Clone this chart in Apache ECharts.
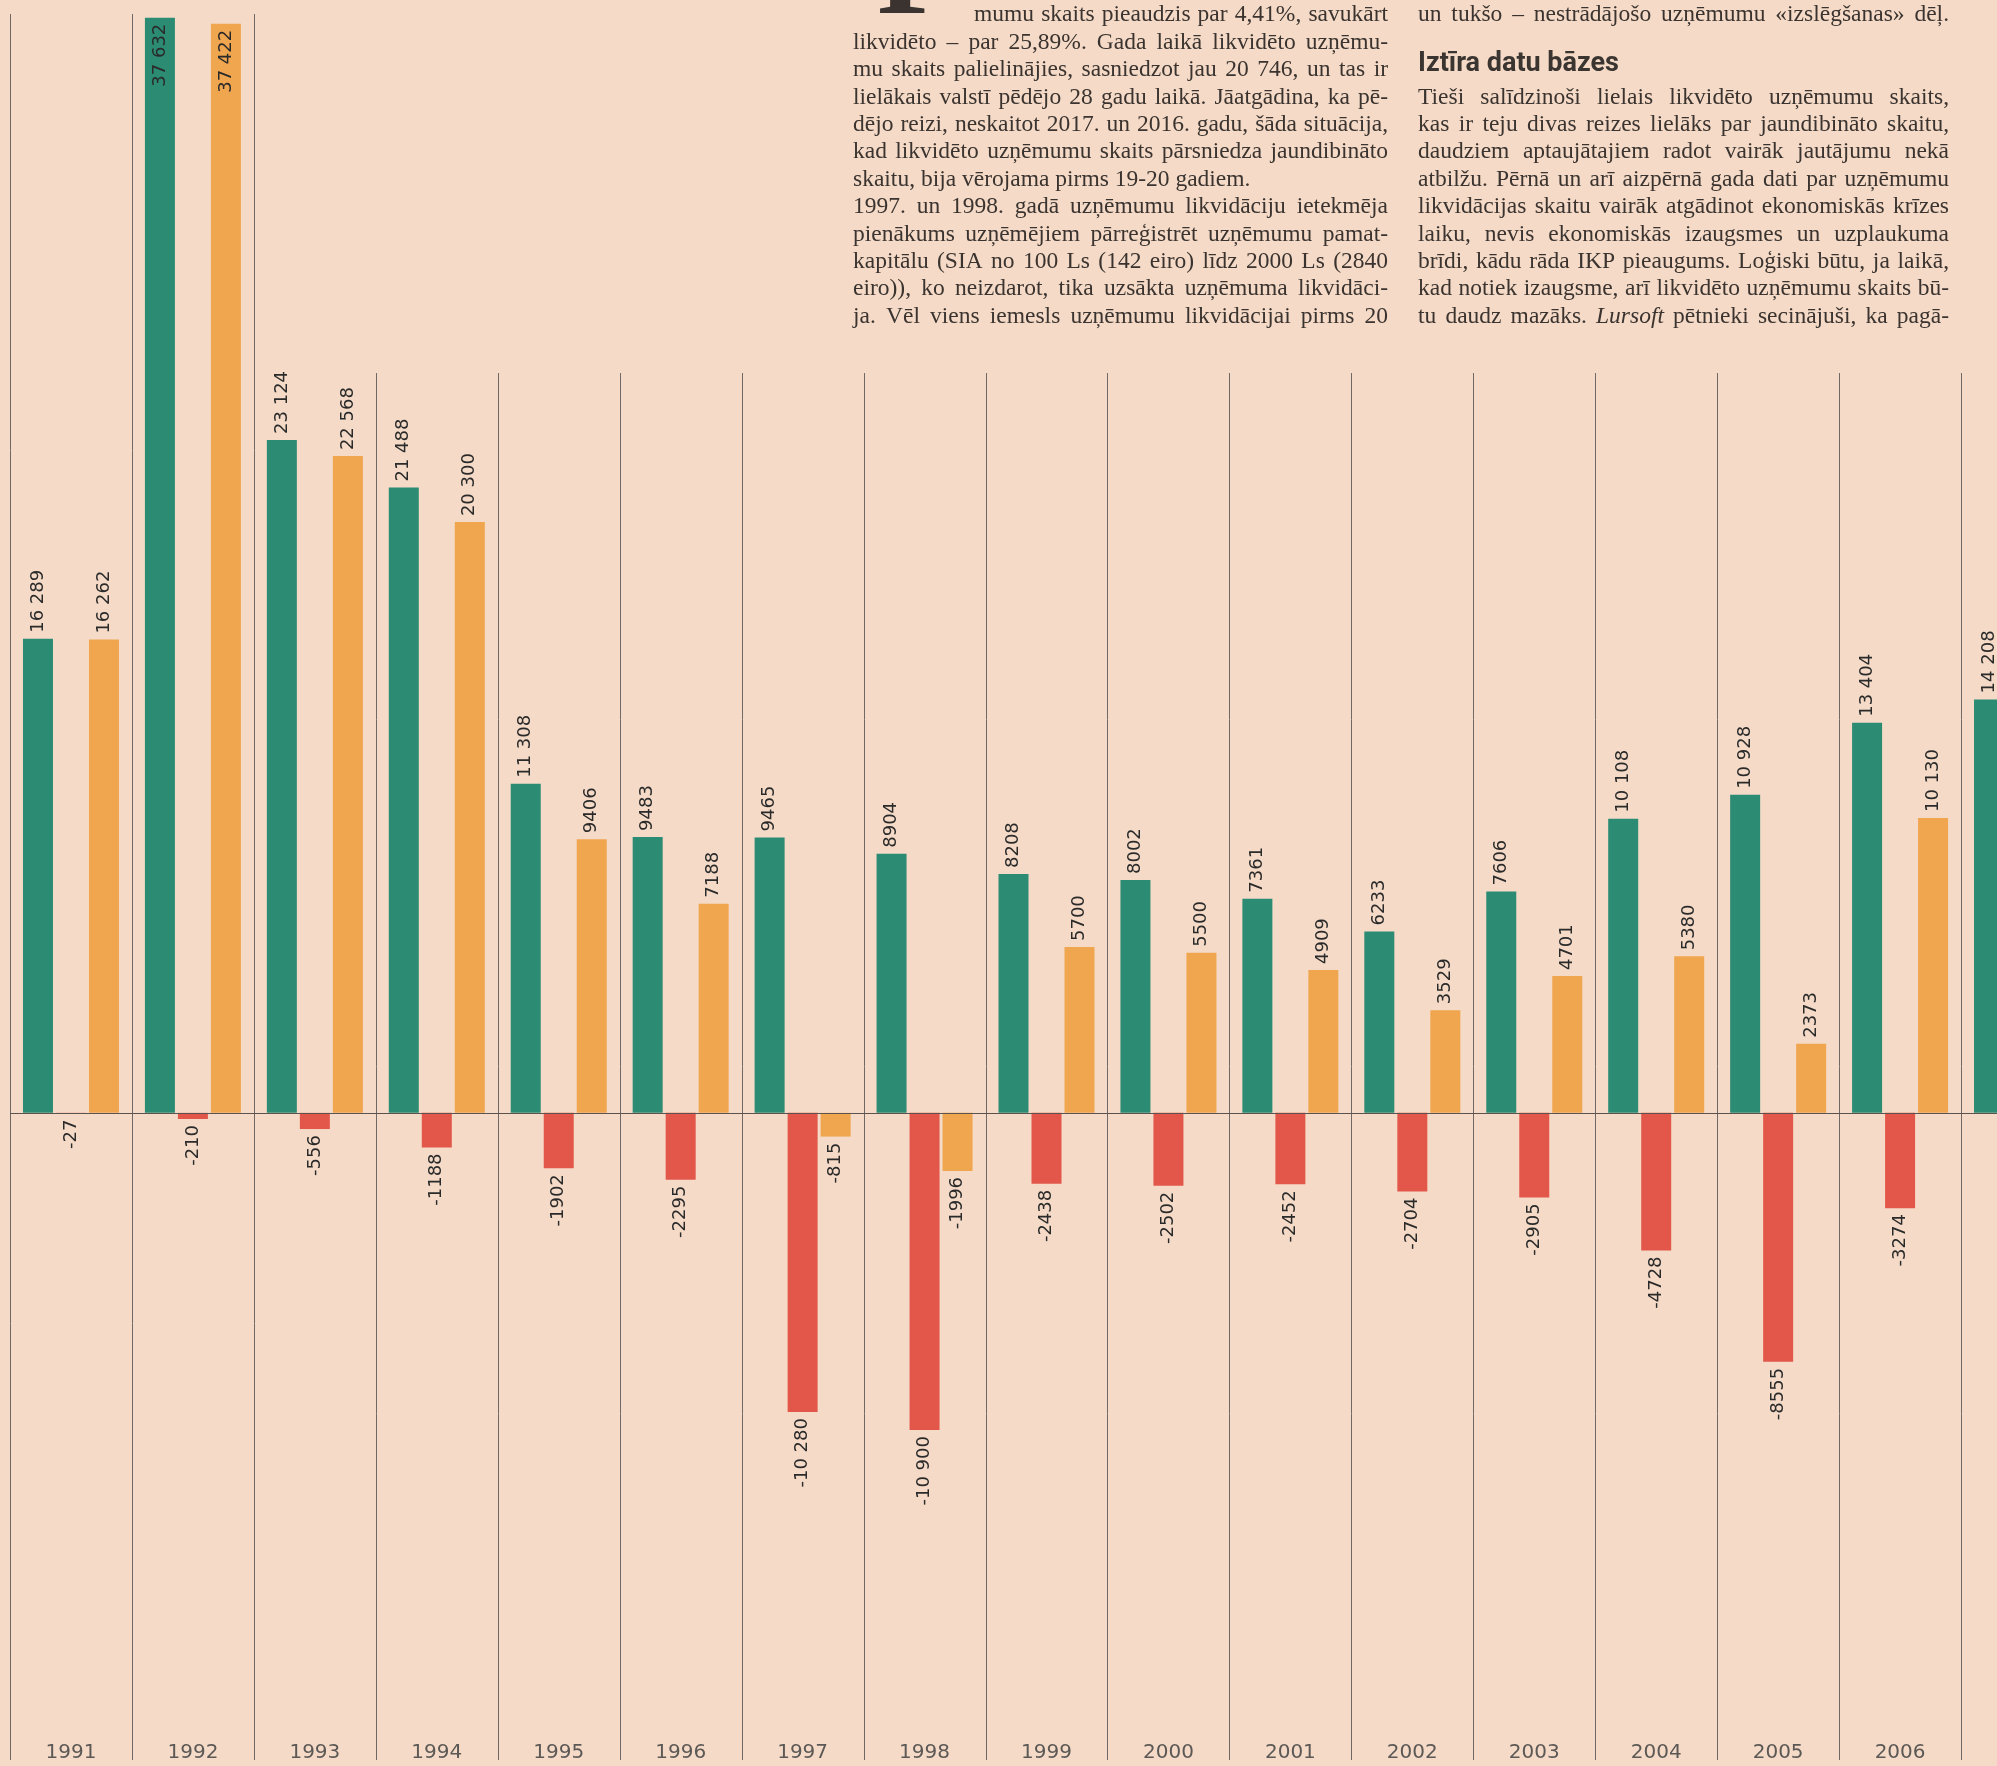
<!DOCTYPE html>
<html>
<head>
<meta charset="utf-8">
<script src="https://cdn.jsdelivr.net/npm/echarts@6/dist/echarts.min.js"></script>
<style>
html,body{margin:0;padding:0;background:#f5dbc7;}
#c{width:1997px;height:1766px;}
</style>
</head>
<body>
<div id="c"></div>
<script>
// ---- data ----
const years = ['1991','1992','1993','1994','1995','1996','1997','1998','1999','2000','2001','2002','2003','2004','2005','2006','2007'];
const registered = [16289,37632,23124,21488,11308,9483,9465,8904,8208,8002,7361,6233,7606,10108,10928,13404,14208];
const difference = [-27,-210,-556,-1188,-1902,-2295,-10280,-10900,-2438,-2502,-2452,-2704,-2905,-4728,-8555,-3274,null];
const liquidated = [16262,37422,22568,20300,9406,7188,-815,-1996,5700,5500,4909,3529,4701,5380,2373,10130,null];

// ---- article text (as printed above the chart) ----
const articleCol1 = [
  'mumu skaits pieaudzis par 4,41%, savukārt',
  'likvidēto – par 25,89%. Gada laikā likvidēto uzņēmu-',
  'mu skaits palielinājies, sasniedzot jau 20 746, un tas ir',
  'lielākais valstī pēdējo 28 gadu laikā. Jāatgādina, ka pē-',
  'dējo reizi, neskaitot 2017. un 2016. gadu, šāda situācija,',
  'kad likvidēto uzņēmumu skaits pārsniedza jaundibināto',
  'skaitu, bija vērojama pirms 19-20 gadiem.',
  '1997. un 1998. gadā uzņēmumu likvidāciju ietekmēja',
  'pienākums uzņēmējiem pārreģistrēt uzņēmumu pamat-',
  'kapitālu (SIA no 100 Ls (142 eiro) līdz 2000 Ls (2840',
  'eiro)), ko neizdarot, tika uzsākta uzņēmuma likvidāci-',
  'ja. Vēl viens iemesls uzņēmumu likvidācijai pirms 20'
];
const articleCol2Top = 'un tukšo – nestrādājošo uzņēmumu «izslēgšanas» dēļ.';
const articleHeading = 'Iztīra datu bāzes';
const articleCol2 = [
  'Tieši salīdzinoši lielais likvidēto uzņēmumu skaits,',
  'kas ir teju divas reizes lielāks par jaundibināto skaitu,',
  'daudziem aptaujātajiem radot vairāk jautājumu nekā',
  'atbilžu. Pērnā un arī aizpērnā gada dati par uzņēmumu',
  'likvidācijas skaitu vairāk atgādinot ekonomiskās krīzes',
  'laiku, nevis ekonomiskās izaugsmes un uzplaukuma',
  'brīdi, kādu rāda IKP pieaugums. Loģiski būtu, ja laikā,',
  'kad notiek izaugsme, arī likvidēto uzņēmumu skaits bū-',
  'tu daudz mazāks. *Lursoft* pētnieki secinājuši, ka pagā-'
];

// ---- helpers ----
const GREEN = '#2b8b73', ORANGE = '#f0a54f', RED = '#e2574a';
const TEXT = '#3a332f';
const BODY_FONT = '"Liberation Serif", "DejaVu Serif", serif';
const Y_MAX = 38000, Y_MIN = -21000;
const mctx = document.createElement('canvas').getContext('2d');

function fmt(v) {
  const a = Math.abs(v);
  const s = a >= 10000 ? Math.floor(a / 1000) + ' ' + String(a % 1000).padStart(3, '0') : String(a);
  return (v < 0 ? '-' : '') + s;
}

function labelFor(v) {
  if (v < 0) return { position: 'bottom', align: 'right' };
  if (v > Y_MAX * 0.85) return { position: 'insideTop', align: 'right' };
  return { position: 'top', align: 'left' };
}

function barSeries(name, arr, color) {
  return {
    type: 'bar',
    name: name,
    barWidth: 30,
    barGap: '10%',
    itemStyle: { color: color },
    label: {
      show: true,
      rotate: 90,
      verticalAlign: 'middle',
      distance: 6,
      fontFamily: 'DejaVu Sans',
      fontSize: 18,
      color: '#2a2a2a',
      formatter: p => fmt(p.value)
    },
    data: arr.map(v => v == null ? '-' : { value: v, label: labelFor(v) })
  };
}

function lineEls(text, x0, x1, yc, size, justify) {
  const words = text.split(/\s+/).filter(Boolean);
  const items = words.map(w => {
    const it = w.length > 2 && w[0] === '*' && w[w.length - 1] === '*';
    const t = it ? w.slice(1, -1) : w;
    const font = (it ? 'italic ' : '') + size + 'px ' + BODY_FONT;
    mctx.font = font;
    return { t: t, font: font, w: mctx.measureText(t).width };
  });
  const sw = items.reduce((a, b) => a + b.w, 0);
  const n = items.length;
  const W = x1 - x0;
  let gap, s = 1;
  mctx.font = size + 'px ' + BODY_FONT;
  const sp = mctx.measureText(' ').width;
  if (justify && n > 1) {
    gap = (W - sw) / (n - 1);
    const minGap = sp * 0.75;
    if (gap < minGap) { gap = minGap; s = (W - minGap * (n - 1)) / sw; }
  } else {
    gap = sp;
  }
  let x = x0;
  const els = [];
  items.forEach(it => {
    els.push({
      type: 'text', x: x, y: yc, scaleX: s, silent: true,
      style: { text: it.t, font: it.font, fill: TEXT, align: 'left', textAlign: 'left',
               verticalAlign: 'middle', textVerticalAlign: 'middle' }
    });
    x += it.w * s + gap;
  });
  return els;
}

// ---- article layout ----
const LINE0 = 15.3, LSTEP = 27.4, FS = 23.5;
const graphics = [];
graphics.push({
  type: 'text', x: 877, y: 44, silent: true,
  style: { text: 'P', font: 'bold 130px ' + BODY_FONT, fill: TEXT, align: 'left', textAlign: 'left',
           verticalAlign: 'bottom', textVerticalAlign: 'bottom' }
});
articleCol1.forEach((t, i) => {
  const x0 = i === 0 ? 974 : 853;
  graphics.push(...lineEls(t, x0, 1388, LINE0 + LSTEP * i, FS, i !== 6));
});
graphics.push(...lineEls(articleCol2Top, 1418, 1949, LINE0, FS, true));
graphics.push({
  type: 'text', x: 1418, y: 64, silent: true,
  style: { text: articleHeading, font: 'bold 27px Roboto', fill: '#3a3530', align: 'left', textAlign: 'left',
           verticalAlign: 'middle', textVerticalAlign: 'middle' }
});
articleCol2.forEach((t, i) => {
  graphics.push(...lineEls(t, 1418, 1949, LINE0 + LSTEP * (i + 3), FS, true));
});

// ---- chart ----
const chart = echarts.init(document.getElementById('c'), null, { renderer: 'canvas' });
const greenS = barSeries('Reģistrēti', registered, GREEN);
greenS.markLine = {
  silent: true, symbol: 'none', animation: false,
  label: { show: false },
  lineStyle: { color: '#5a5350', width: 1.2, type: 'solid' },
  data: [{ yAxis: 0 }]
};
greenS.z = 3;

const option = {
  backgroundColor: '#f5dbc7',
  animation: false,
  grid: { left: 10, top: 7, width: 2073, height: 1717, containLabel: false, outerBoundsMode: 'none' },
  xAxis: {
    type: 'category',
    data: years,
    position: 'bottom',
    axisLine: { show: false },
    axisTick: { show: false },
    splitLine: { show: false },
    axisLabel: { color: '#5c5855', fontFamily: 'DejaVu Sans', fontSize: 20, margin: 19, interval: 0 }
  },
  yAxis: {
    type: 'value',
    min: Y_MIN, max: Y_MAX,
    show: false,
    splitLine: { show: false }
  },
  series: [
    {
      type: 'custom',
      silent: true,
      clip: false,
      z: 1,
      encode: { x: 0, y: 1 },
      data: years.map((y, i) => [i, 0]),
      renderItem: (params, api) => {
        const i = api.value(0);
        const c = api.coord([i, 0]);
        const w = api.size([1, 0])[0];
        const x = Math.round(c[0] - w / 2) + 0.5;
        const top = i < 3 ? 14 : 373;
        return { type: 'line', shape: { x1: x, y1: top, x2: x, y2: 1760 },
                 style: { stroke: '#6f6864', lineWidth: 1 } };
      }
    },
    greenS,
    barSeries('Starpība', difference, RED),
    barSeries('Likvidēti', liquidated, ORANGE)
  ],
  graphic: { elements: graphics }
};
chart.setOption(option);
</script>
</body>
</html>
